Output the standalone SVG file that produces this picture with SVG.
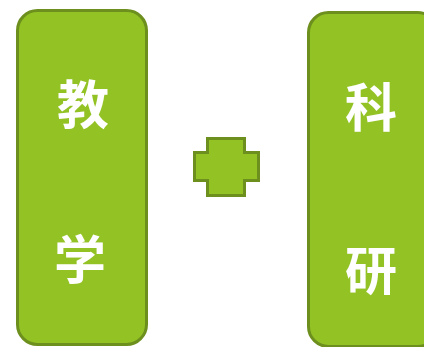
<svg xmlns="http://www.w3.org/2000/svg" width="424" height="347" viewBox="0 0 424 347">
<style>
.box{fill:#93c225;stroke:#6c8f1d;stroke-width:3}
.t{fill:#ffffff;font-family:"Noto Sans CJK SC","Noto Sans CJK JP",sans-serif;font-size:52px;font-weight:bold;text-anchor:middle}
</style>
<rect width="424" height="347" fill="#ffffff"/>
<g id="teaching">
<rect class="box" x="17.5" y="10.5" width="129" height="334" rx="20"/>
<text class="t" x="83" y="124">教</text>
<text class="t" x="80" y="279">学</text>
</g>
<g id="plus">
<path class="box" d="M207.5 138.5H244.5V152.5H258.5V180.5H244.5V195.5H207.5V180.5H194.5V152.5H207.5Z"/>
</g>
<g id="research">
<rect class="box" x="308.5" y="12.5" width="129" height="334" rx="20"/>
<text class="t" x="371" y="127">科</text>
<text class="t" x="371" y="290">研</text>
</g>
<g id="connectors"></g>
</svg>
